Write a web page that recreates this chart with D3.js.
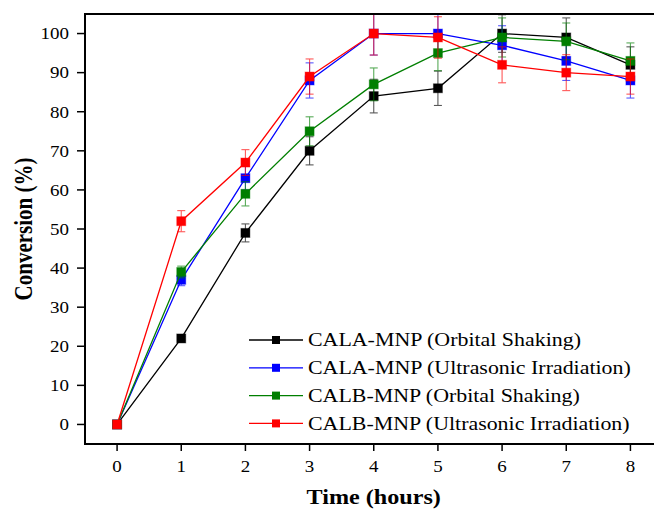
<!DOCTYPE html>
<html>
<head>
<meta charset="utf-8">
<script src="https://cdn.jsdelivr.net/npm/d3@7/dist/d3.min.js"></script>
<style>
html,body{margin:0;padding:0;background:#fff;}
svg{display:block;}
text{font-family:"Liberation Serif","Times New Roman",serif;fill:#000;}
</style>
</head>
<body>
<svg id="chart" width="654" height="510"></svg>
<script>
const hours = [0, 1, 2, 3, 4, 5, 6, 7, 8];
const seriesNames = [
  "CALA-MNP (Orbital Shaking)",
  "CALA-MNP (Ultrasonic Irradiation)",
  "CALB-MNP (Orbital Shaking)",
  "CALB-MNP (Ultrasonic Irradiation)"
];
const seriesColors = ["#000000", "#0000ff", "#007f00", "#ff0000"];
const calaOrbital = [0, 22, 49, 70, 84, 86, 100, 99, 92];
const calaUltra   = [0, 37, 63, 88, 100, 100, 97, 93, 88];
const calbOrbital = [0, 39, 59, 75, 87, 95, 99, 98, 93];
const calbUltra   = [0, 52, 67, 89, 100, 99, 92, 90, 89];
const calaOrbitalErr = [0, 0.5, 2.3, 3.6, 4.3, 4.4, 4.8, 5.0, 4.6];
const calaUltraErr   = [0, 1.5, 3.0, 4.5, 5.5, 5.5, 5.0, 5.0, 4.5];
const calbOrbitalErr = [0, 1.5, 3.1, 3.7, 4.2, 4.5, 5.0, 4.7, 4.6];
const calbUltraErr   = [0, 2.7, 3.3, 4.5, 5.5, 5.3, 4.6, 4.6, 4.5];
const yTicks = [0, 10, 20, 30, 40, 50, 60, 70, 80, 90, 100];
const xTicks = [0, 1, 2, 3, 4, 5, 6, 7, 8];

const seriesValues = [calaOrbital, calaUltra, calbOrbital, calbUltra];
const seriesErrs = [calaOrbitalErr, calaUltraErr, calbOrbitalErr, calbUltraErr];

const SX = 1.15; // horizontal glyph stretch seen in the reference
const svg = d3.select("#chart");
const x = d3.scaleLinear().domain([-0.5, 8.5]).range([85, 662.5]);
const y = d3.scaleLinear().domain([-5, 105]).range([444, 14]);

function stretchedText(g, tx, ty, str, size, anchor, weight, rot, sx) {
  return g.append("text")
    .attr("transform", `translate(${tx},${ty}) scale(${sx || SX},1)` + (rot ? ` rotate(${rot})` : ""))
    .attr("text-anchor", anchor)
    .attr("font-size", size)
    .attr("font-weight", weight || "normal")
    .text(str);
}

// clip
svg.append("defs").append("clipPath").attr("id", "clip")
  .append("rect").attr("x", x(-0.5)).attr("y", y(105)).attr("width", x(8.5) - x(-0.5)).attr("height", y(-5) - y(105));

const plot = svg.append("g").attr("clip-path", "url(#clip)");

const line = d3.line().x((d, i) => x(hours[i])).y(d => y(d));

seriesValues.forEach((vals, s) => {
  const col = seriesColors[s];
  const g = plot.append("g");
  // error bars
  const eb = g.append("g").attr("stroke", col).attr("stroke-width", 1.1).attr("opacity", 0.65);
  vals.forEach((v, i) => {
    const e = seriesErrs[s][i];
    if (e <= 0) return;
    const cx = x(hours[i]);
    eb.append("line").attr("x1", cx).attr("x2", cx).attr("y1", y(v - e)).attr("y2", y(v + e));
    eb.append("line").attr("x1", cx - 4).attr("x2", cx + 4).attr("y1", y(v - e)).attr("y2", y(v - e));
    eb.append("line").attr("x1", cx - 4).attr("x2", cx + 4).attr("y1", y(v + e)).attr("y2", y(v + e));
  });
  g.append("path").datum(vals).attr("d", line)
    .attr("fill", "none").attr("stroke", col).attr("stroke-width", 1.3);
  g.selectAll("rect.m").data(vals).enter().append("rect")
    .attr("x", (d, i) => x(hours[i]) - 4.5).attr("y", d => y(d) - 4.5)
    .attr("width", 9).attr("height", 9)
    .attr("fill", col).attr("stroke", col).attr("stroke-opacity", 0.4).attr("stroke-width", 1);
});

// frame
svg.append("rect").attr("x", x(-0.5)).attr("y", y(105))
  .attr("width", x(8.5) - x(-0.5)).attr("height", y(-5) - y(105))
  .attr("fill", "none").attr("stroke", "#000").attr("stroke-width", 2);

// y axis
const yAxisG = svg.append("g");
yTicks.forEach(t => {
  yAxisG.append("line").attr("x1", x(-0.5) - 8).attr("x2", x(-0.5)).attr("y1", y(t)).attr("y2", y(t))
    .attr("stroke", "#000").attr("stroke-width", 1.5);
  stretchedText(yAxisG, x(-0.5) - 16, y(t) + 5.8, String(t), 16.5, "end");
});
// x axis
const xAxisG = svg.append("g");
xTicks.forEach(t => {
  xAxisG.append("line").attr("x1", x(t)).attr("x2", x(t)).attr("y1", y(-5)).attr("y2", y(-5) + 7)
    .attr("stroke", "#000").attr("stroke-width", 1.5);
  stretchedText(xAxisG, x(t), 472, String(t), 16.5, "middle");
});

// axis titles
stretchedText(svg, 32, y(50), "Conversion (%)", 21, "middle", "bold", -90);
stretchedText(svg, x(4), 504, "Time (hours)", 21, "middle", "bold");

// legend
const leg = svg.append("g");
const legY0 = 340, legDy = 27.8;
seriesNames.forEach((name, s) => {
  const cy = legY0 + s * legDy;
  leg.append("line").attr("x1", 249).attr("x2", 303).attr("y1", cy).attr("y2", cy)
    .attr("stroke", seriesColors[s]).attr("stroke-width", 1.3);
  leg.append("rect").attr("x", 276 - 4).attr("y", cy - 4).attr("width", 8).attr("height", 8)
    .attr("fill", seriesColors[s]);
  stretchedText(leg, 308, cy + 6.3, name, 18.5, "start", null, null, 1.185);
});
</script>
</body>
</html>
